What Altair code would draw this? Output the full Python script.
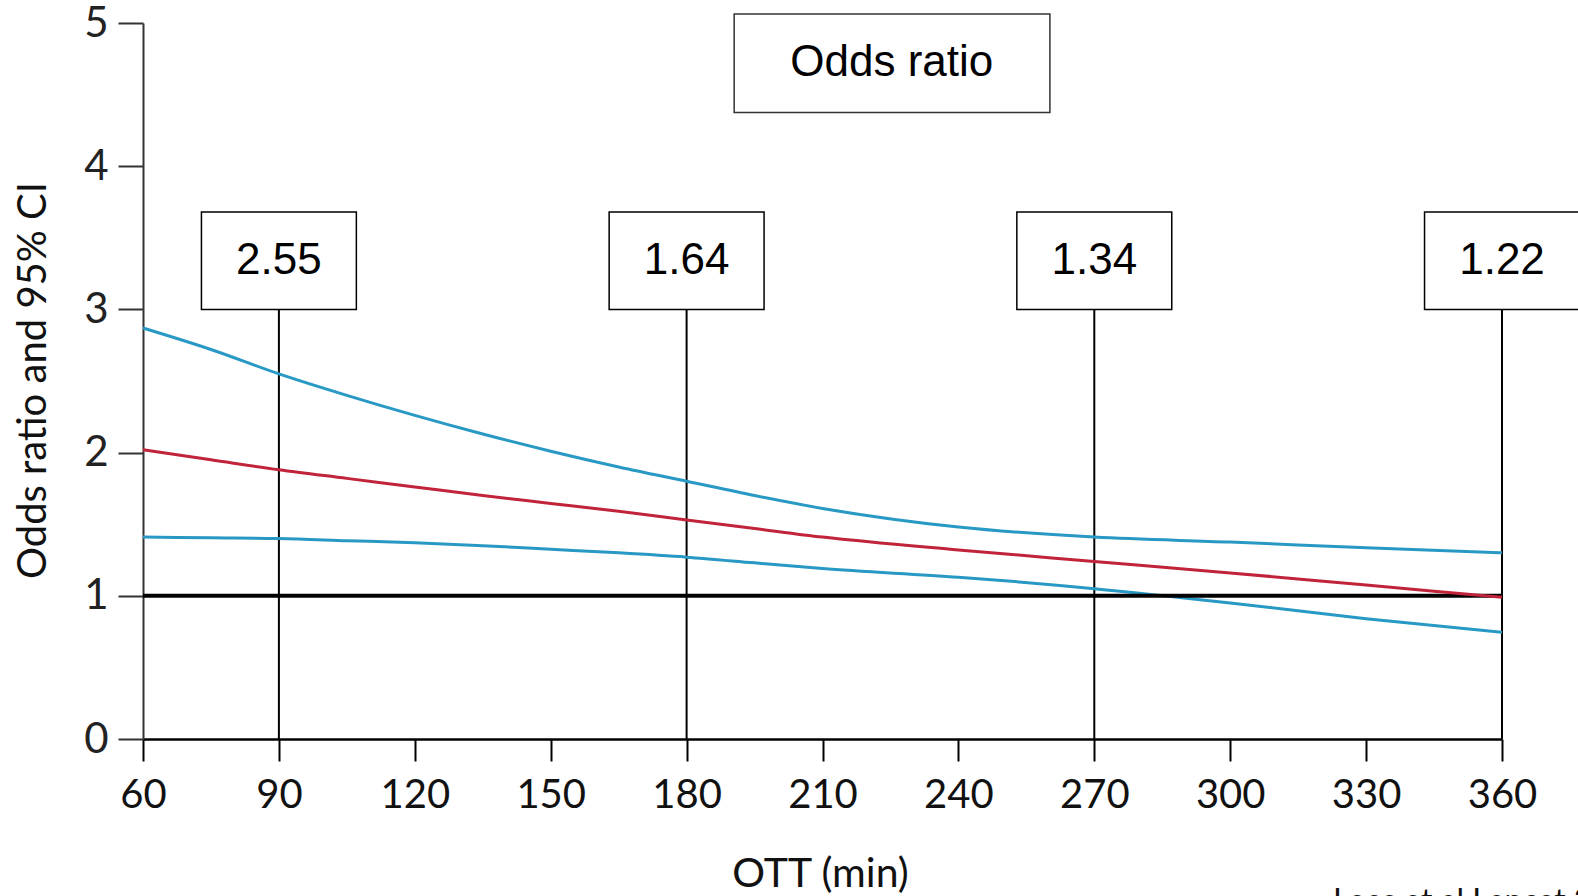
import altair as alt
import pandas as pd

# ---- data ----
ott = [60, 75, 90, 105, 120, 135, 150, 165, 180, 195, 210, 240, 270, 300, 330, 360]
upper_ci = [2.87, 2.72, 2.55, 2.40, 2.26, 2.13, 2.01, 1.90, 1.80, 1.70, 1.61, 1.48, 1.41, 1.375, 1.335, 1.30]
odds_ratio = [2.02, 1.95, 1.88, 1.82, 1.76, 1.70, 1.645, 1.59, 1.53, 1.47, 1.41, 1.32, 1.24, 1.16, 1.075, 0.99]
lower_ci = [1.41, 1.405, 1.40, 1.385, 1.37, 1.35, 1.325, 1.30, 1.27, 1.23, 1.19, 1.13, 1.05, 0.95, 0.84, 0.745]

box_ott = [90, 180, 270, 360]
box_text = ["2.55", "1.64", "1.34", "1.22"]

x_ticks = [60, 90, 120, 150, 180, 210, 240, 270, 300, 330, 360]
y_ticks = [0, 1, 2, 3, 4, 5]

n = len(ott)
blue_df = pd.DataFrame({
    "ott": ott + ott,
    "val": upper_ci + lower_ci,
    "series": ["upper"] * n + ["lower"] * n,
})
red_df = pd.DataFrame({"ott": ott, "val": odds_ratio})
box_df = pd.DataFrame({"ott": box_ott, "label": box_text})
one = pd.DataFrame({"k": [0]})

# ---- styling constants ----
W, H = 1359, 716
BOX_HALF = 17.1          # half width of value boxes (data units of x)
BOX_BOTTOM, BOX_TOP = 3.0, 3.68
BLUE = "#2899c4"
RED = "#c0233a"
AXFONT = "Lato"
BOXFONT = "Liberation Sans"

xscale = alt.Scale(domain=[60, 360], nice=False, zero=False)
yscale = alt.Scale(domain=[0, 5], nice=False, zero=False)

xaxis = alt.Axis(
    values=x_ticks, title="OTT (min)", grid=False,
    titleFont=AXFONT, titleFontSize=41, titleFontWeight="normal", titleColor="#111",
    titleX=677, titleY=147, titleAlign="center", titleBaseline="alphabetic",
    labelFont=AXFONT, labelFontSize=40, labelColor="#111", labelPadding=14,
    labelFlush=False, labelOverlap=False,
    tickSize=22, tickColor="black", tickWidth=2,
    domainColor="black", domainWidth=2.5,
)
yaxis = alt.Axis(
    values=y_ticks, title="Odds ratio and 95% CI", grid=False,
    titleFont=AXFONT, titleFontSize=40, titleFontWeight="normal", titleColor="#111",
    titleAngle=270, titleX=-110, titleY=357, titleAlign="center", titleBaseline="middle",
    labelFont=AXFONT, labelFontSize=42, labelColor="#222", labelPadding=10,
    labelFlush=False, labelOverlap=False,
    tickSize=25, tickColor="#333", tickWidth=2,
    domainColor="#333", domainWidth=2,
)


def X(field):
    return alt.X(field, type="quantitative", scale=xscale, axis=xaxis)


def Y(field):
    return alt.Y(field, type="quantitative", scale=yscale, axis=yaxis)


blue_lines = alt.Chart(blue_df).mark_line(
    color=BLUE, strokeWidth=3, interpolate="monotone"
).encode(x=X("ott"), y=Y("val"), detail="series:N")

ref_line = alt.Chart(one).mark_rule(color="black", strokeWidth=4).encode(
    x=alt.datum(60, scale=xscale, axis=xaxis, type="quantitative"),
    x2=alt.datum(360),
    y=alt.datum(1, scale=yscale, axis=yaxis, type="quantitative"),
)

red_line = alt.Chart(red_df).mark_line(
    color=RED, strokeWidth=3, interpolate="monotone"
).encode(x=X("ott"), y=Y("val"))

vrules = alt.Chart(box_df).mark_rule(color="black", strokeWidth=2).encode(
    x=X("ott"),
    y=alt.datum(0, scale=yscale, axis=yaxis, type="quantitative"),
    y2=alt.datum(BOX_BOTTOM),
)

boxes = alt.Chart(box_df).transform_calculate(
    lo=f"datum.ott - {BOX_HALF}", hi=f"datum.ott + {BOX_HALF}"
).mark_rect(fill="white", stroke="black", strokeWidth=1.5).encode(
    x=X("lo"), x2="hi:Q",
    y=alt.datum(BOX_BOTTOM, scale=yscale, axis=yaxis, type="quantitative"),
    y2=alt.datum(BOX_TOP),
)

box_labels = alt.Chart(box_df).mark_text(
    font=BOXFONT, fontSize=44, color="black", align="center", baseline="middle"
).encode(
    x=X("ott"),
    y=alt.datum((BOX_BOTTOM + BOX_TOP) / 2, scale=yscale, axis=yaxis, type="quantitative"),
    text="label:N",
)

title_box = alt.Chart(one).mark_rect(
    fill="white", stroke="#333", strokeWidth=1.5
).encode(
    x=alt.datum(190.5, scale=xscale, axis=xaxis, type="quantitative"),
    x2=alt.datum(260.2),
    y=alt.datum(4.375, scale=yscale, axis=yaxis, type="quantitative"),
    y2=alt.datum(5.063),
)

title_text = alt.Chart(one).mark_text(
    font=BOXFONT, fontSize=44, color="black", align="center", baseline="middle",
    text="Odds ratio",
).encode(
    x=alt.datum(225.3, scale=xscale, axis=xaxis, type="quantitative"),
    y=alt.datum(4.72, scale=yscale, axis=yaxis, type="quantitative"),
)

citation = alt.Chart(one).mark_text(
    font=AXFONT, fontSize=32, color="#111", align="left", baseline="top",
    text="Lees et al Lancet 2010",
).encode(x=alt.value(1190), y=alt.value(864))

chart = alt.layer(
    vrules, blue_lines, ref_line, red_line, boxes, box_labels, title_box, title_text, citation
).properties(
    width=W, height=H,
    autosize=alt.AutoSizeParams(type="none"),
    padding={"left": 143, "top": 23, "right": 76, "bottom": 157},
    background="white",
).configure_view(stroke=None)

chart.save("out.html", embed_options={"renderer": "svg", "actions": False})
